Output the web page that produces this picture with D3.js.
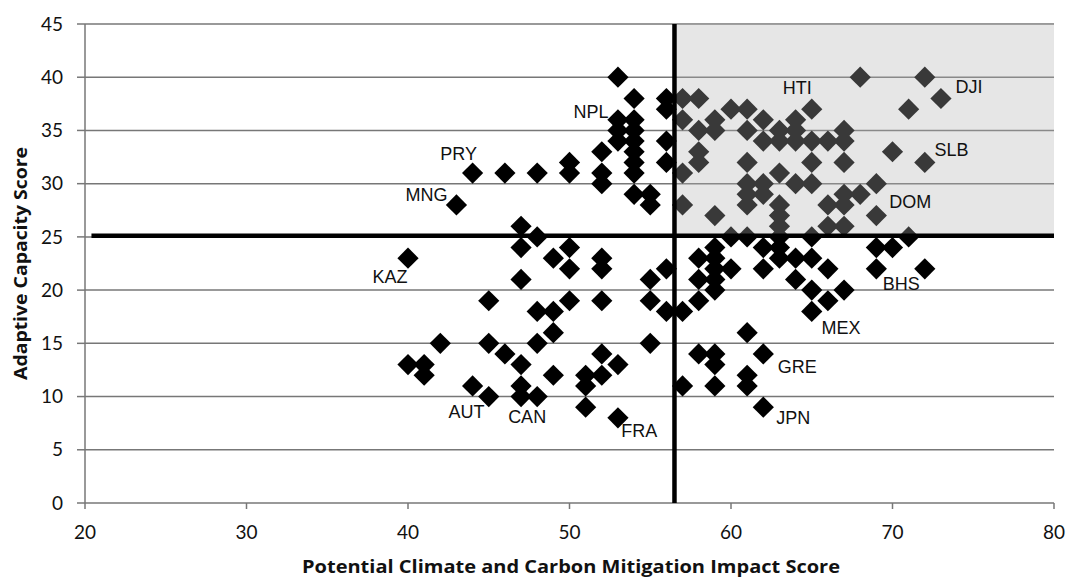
<!DOCTYPE html>
<html>
<head>
<script src="https://d3js.org/d3.v7.min.js"></script>
<style>
  body { margin: 0; background: #fff; }
  .tick-label { font-family: Lato, sans-serif; font-size: 19px; fill: #111; }
  .axis-title { font-family: "Open Sans", sans-serif; font-size: 17px; font-weight: 700; fill: #111; }
  .country { font-family: "Liberation Sans", Arial, sans-serif; font-size: 18px; fill: #111; }
</style>
</head>
<body>
<div id="chart"></div>
<script>
// impact score (x) and adaptive capacity score (y) for each country
var impact = [
  53,54,56,56, 53,53,53, 54,54,54,54,54,54, 56,56, 52,52,52, 50,50, 48,46,44,43, 54,55,55,
  40,47,48,47,49,50,50,52,52,47, 45,50,52,48,49,49,48,45,42,
  40,41,41,46,47,49,44,45,47,47,48, 51,51,51,52,52,53,53,55,55,55,56,56,
  57,58,60,61,65,71,68,72,73, 57,59,62,64, 58,59,61,63,64,67, 62,63,64,65,66,67,
  58,70, 58,61,65,67,72, 57,63, 61,62,64,65,69, 61,62,67,68, 57,61,63,66,67,
  59,63,69, 63,66,67, 60,61,63,65,71,
  59,58,59,58,59,59,59,58,60,57, 62,63,63,64,65,62,66,64,65,67,66,65,
  69,70,69,72, 61,62,58,59,59,59,61,61,57,62
];
var capacity = [
  40,38,38,37, 36,35,34, 36,35,34,33,32,31, 34,32, 33,31,30, 32,31, 31,31,31,28, 29,29,28,
  23,26,25,24,23,24,22,23,22,21, 19,19,19,18,18,16,15,15,15,
  13,13,12,14,13,12,11,10,11,10,10, 12,11,9,14,12,13,8,15,21,19,22,18,
  38,38,37,37,37,37,40,40,38, 36,36,36,36, 35,35,35,35,35,35, 34,34,34,34,34,34,
  33,33, 32,32,32,32,32, 31,31, 30,30,30,30,30, 29,29,29,29, 28,28,28,28,28,
  27,27,27, 26,26,26, 25,25,25,25,25,
  24,23,23,21,22,21,20,19,22,18, 24,24,23,23,23,22,22,21,20,20,19,18,
  24,24,22,22, 16,14,14,14,13,11,12,11,11,9
];

// country labels, placed by the data value of their text start and baseline
var labelNames = ["NPL","PRY","MNG","KAZ","AUT","CAN","FRA","HTI","DJI","SLB","DOM","BHS","MEX","GRE","JPN"];
var labelX = [50.25, 42.0, 39.85, 37.8, 42.5, 46.2, 53.2, 63.2, 73.9, 72.6, 69.8, 69.4, 65.6, 62.9, 62.8];
var labelY = [36.2, 32.2, 28.4, 20.7, 8.0, 7.5, 6.2, 38.4, 38.5, 32.6, 27.7, 20.0, 15.9, 12.2, 7.4];

var xTicks = [20, 30, 40, 50, 60, 70, 80];
var yTicks = [0, 5, 10, 15, 20, 25, 30, 35, 40, 45];

// quadrant thresholds
var impactCut = 56.5;
var capacityCut = 25.1;

var width = 1068, height = 578;
var margin = {left: 85, right: 14, top: 24, bottom: 75};

var x = d3.scaleLinear().domain([20, 80]).range([margin.left, width - margin.right]);
var y = d3.scaleLinear().domain([0, 45]).range([height - margin.bottom, margin.top]);

var svg = d3.select("#chart").append("svg")
    .attr("width", width)
    .attr("height", height);

// horizontal gridlines
svg.append("g").selectAll("line")
    .data(yTicks.filter(function(d) { return d > 0; }))
    .enter().append("line")
    .attr("x1", x(20)).attr("x2", x(80))
    .attr("y1", function(d) { return y(d); })
    .attr("y2", function(d) { return y(d); })
    .attr("stroke", "#777")
    .attr("stroke-width", 1.5);

// axes lines + ticks
svg.append("line")
    .attr("x1", x(20)).attr("x2", x(20))
    .attr("y1", y(45)).attr("y2", y(0))
    .attr("stroke", "#777").attr("stroke-width", 1.5);
svg.append("line")
    .attr("x1", x(20)).attr("x2", x(80))
    .attr("y1", y(0)).attr("y2", y(0))
    .attr("stroke", "#777").attr("stroke-width", 1.5);

svg.append("g").selectAll("line")
    .data(yTicks)
    .enter().append("line")
    .attr("x1", x(20) - 8).attr("x2", x(20))
    .attr("y1", function(d) { return y(d); })
    .attr("y2", function(d) { return y(d); })
    .attr("stroke", "#777").attr("stroke-width", 1.5);

svg.append("g").selectAll("line")
    .data(xTicks)
    .enter().append("line")
    .attr("x1", function(d) { return x(d); })
    .attr("x2", function(d) { return x(d); })
    .attr("y1", y(0)).attr("y2", y(0) + 6)
    .attr("stroke", "#777").attr("stroke-width", 1.5);

svg.append("g").selectAll("text")
    .data(yTicks)
    .enter().append("text")
    .attr("class", "tick-label")
    .attr("x", x(20) - 22)
    .attr("y", function(d) { return y(d); })
    .attr("dy", "0.35em")
    .attr("text-anchor", "end")
    .text(function(d) { return d; });

svg.append("g").selectAll("text")
    .data(xTicks)
    .enter().append("text")
    .attr("class", "tick-label")
    .attr("x", function(d) { return x(d); })
    .attr("y", y(0) + 36)
    .attr("text-anchor", "middle")
    .text(function(d) { return d; });

// points
var pts = impact.map(function(d, i) { return {x: d, y: capacity[i]}; });
var diamond = d3.symbol().type(d3.symbolSquare).size(225);

svg.append("g").selectAll("path")
    .data(pts)
    .enter().append("path")
    .attr("d", diamond)
    .attr("transform", function(d) { return "translate(" + x(d.x) + "," + y(d.y) + ") rotate(45)"; })
    .attr("fill", "#000");

// shaded high-impact / high-capacity quadrant (translucent, on top of the points)
svg.append("rect")
    .attr("x", x(impactCut))
    .attr("y", y(45))
    .attr("width", x(80) - x(impactCut))
    .attr("height", y(capacityCut) - y(45))
    .attr("fill", "#b0b0b0")
    .attr("opacity", 0.32);

// thick threshold lines
svg.append("line")
    .attr("x1", x(20.4)).attr("x2", x(80))
    .attr("y1", y(capacityCut)).attr("y2", y(capacityCut))
    .attr("stroke", "#000").attr("stroke-width", 4.5);
svg.append("line")
    .attr("x1", x(impactCut)).attr("x2", x(impactCut))
    .attr("y1", y(45)).attr("y2", y(0))
    .attr("stroke", "#000").attr("stroke-width", 4.5);

// country labels
svg.append("g").selectAll("text")
    .data(labelNames)
    .enter().append("text")
    .attr("class", "country")
    .attr("x", function(d, i) { return x(labelX[i]); })
    .attr("y", function(d, i) { return y(labelY[i]); })
    .text(function(d) { return d; });

// axis titles
svg.append("text")
    .attr("class", "axis-title")
    .attr("text-anchor", "middle")
    .attr("transform", "translate(27," + ((y(0) + y(45)) / 2) + ") rotate(-90)")
    .attr("textLength", 233)
    .attr("lengthAdjust", "spacingAndGlyphs")
    .text("Adaptive Capacity Score");

svg.append("text")
    .attr("class", "axis-title")
    .attr("text-anchor", "middle")
    .attr("x", 571)
    .attr("y", 573)
    .attr("textLength", 538)
    .attr("lengthAdjust", "spacingAndGlyphs")
    .text("Potential Climate and Carbon Mitigation Impact Score");
</script>
</body>
</html>
